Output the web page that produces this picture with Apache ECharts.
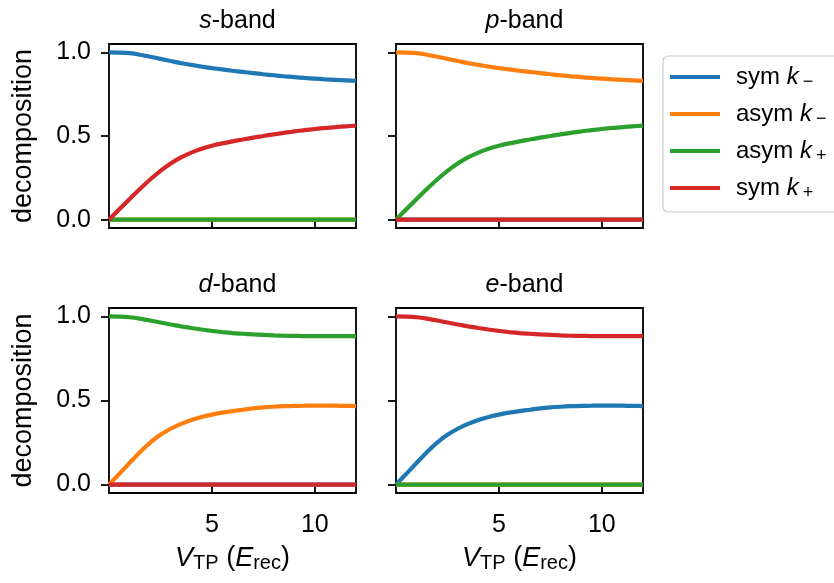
<!DOCTYPE html>
<html>
<head>
<meta charset="utf-8">
<script src="https://cdn.jsdelivr.net/npm/echarts@6/dist/echarts.min.js"></script>
<style>
  html, body { margin: 0; padding: 0; background: #fff; }
  #chart { width: 834px; height: 583px; }
</style>
</head>
<body>
<div id="chart"></div>
<script>
// Trap depth V_TP in units of the recoil energy, sampled every 0.5
const xValues = [0, 0.5, 1, 1.5, 2, 2.5, 3, 3.5, 4, 4.5, 5, 5.5, 6, 6.5, 7, 7.5, 8, 8.5, 9, 9.5, 10, 10.5, 11, 11.5, 12];

// s- and p-band: dominant component falls, the admixed one grows
const fallSP = [1.0, 0.999, 0.995, 0.986, 0.974, 0.961, 0.948, 0.936, 0.925, 0.915, 0.906, 0.898, 0.890,
                0.883, 0.876, 0.869, 0.863, 0.857, 0.852, 0.847, 0.843, 0.839, 0.836, 0.833, 0.830];
const riseSP = [0, 0.062, 0.123, 0.183, 0.240, 0.292, 0.336, 0.372, 0.401, 0.424, 0.442, 0.456, 0.468,
                0.479, 0.490, 0.500, 0.510, 0.519, 0.528, 0.535, 0.542, 0.548, 0.553, 0.558, 0.562];
// d- and e-band
const fallDE = [1.0, 0.999, 0.995, 0.987, 0.976, 0.964, 0.952, 0.941, 0.931, 0.922, 0.914, 0.907, 0.901,
                0.897, 0.893, 0.890, 0.887, 0.885, 0.884, 0.883, 0.883, 0.883, 0.883, 0.883, 0.883];
const riseDE = [0, 0.064, 0.129, 0.193, 0.250, 0.296, 0.332, 0.361, 0.384, 0.402, 0.416, 0.428, 0.437,
                0.445, 0.453, 0.459, 0.463, 0.466, 0.468, 0.469, 0.470, 0.470, 0.469, 0.468, 0.467];
const zeros  = xValues.map(() => 0);

const seriesNames = ['sym k−', 'asym k−', 'asym k+', 'sym k+'];
const seriesColors = ['#1f77b4', '#ff7f0e', '#2ca02c', '#d62728'];
const bandLetters = ['s', 'p', 'd', 'e'];
// components per band, in the order of seriesNames
const bandData = [
  [fallSP, zeros, zeros, riseSP],
  [zeros, fallSP, riseSP, zeros],
  [zeros, riseDE, fallDE, zeros],
  [riseDE, zeros, zeros, fallDE]
];
const yTicks = [0, 0.5, 1.0];
const xTicks = [5, 10];

const FONT = 'Liberation Sans, Arial, Helvetica, sans-serif';
const FS = 25;

const grids = [
  { left: 109, top: 44, width: 247, height: 184 },
  { left: 396, top: 44, width: 247, height: 184 },
  { left: 109, top: 308, width: 247, height: 185 },
  { left: 396, top: 308, width: 247, height: 185 }
];

const gridOpts = grids.map(g => Object.assign({
  show: true, borderColor: '#000', borderWidth: 1.8, backgroundColor: 'transparent'
}, g));

const titles = grids.map((g, i) => ({
  text: '{i|' + bandLetters[i] + '}-band',
  left: g.left + g.width / 2,
  top: g.top - 40,
  textAlign: 'center',
  textStyle: {
    fontFamily: FONT, fontSize: FS, fontWeight: 'normal', color: '#000',
    rich: { i: { fontFamily: FONT, fontSize: FS, fontStyle: 'italic', color: '#000' } }
  }
}));

const xAxes = grids.map((g, i) => ({
  type: 'value', gridIndex: i, min: 0, max: 12,
  axisLine: { show: false },
  splitLine: { show: false },
  axisTick: { show: true, length: 8, lineStyle: { color: '#000', width: 1.8 }, customValues: xTicks },
  axisLabel: {
    show: i >= 2, customValues: xTicks, margin: 20,
    fontFamily: FONT, fontSize: FS, color: '#000'
  },
  name: i >= 2 ? '{i|V}{s|TP} ({i|E}{s|rec})' : '',
  nameLocation: 'middle', nameGap: 50,
  nameTextStyle: {
    fontFamily: FONT, fontSize: 27, color: '#000',
    rich: {
      i: { fontFamily: FONT, fontSize: 27, fontStyle: 'italic', color: '#000' },
      s: { fontFamily: FONT, fontSize: 20, color: '#000', padding: [10, 0, 0, 0] }
    }
  }
}));

const yAxes = grids.map((g, i) => ({
  type: 'value', gridIndex: i, min: -0.05, max: 1.05,
  axisLine: { show: false },
  splitLine: { show: false },
  axisTick: { show: true, length: 8, lineStyle: { color: '#000', width: 1.8 }, customValues: yTicks },
  axisLabel: {
    show: i % 2 === 0, customValues: yTicks, margin: 18,
    fontFamily: FONT, fontSize: FS, color: '#000',
    formatter: v => v.toFixed(1)
  },
  name: i % 2 === 0 ? 'decomposition' : '',
  nameLocation: 'middle', nameGap: 72, nameRotate: 90,
  nameTextStyle: { fontFamily: FONT, fontSize: 27, color: '#000' }
}));

const series = [];
bandData.forEach((comps, b) => {
  comps.forEach((vals, k) => {
    series.push({
      type: 'line', name: seriesNames[k],
      xAxisIndex: b, yAxisIndex: b,
      data: xValues.map((x, j) => [x, vals[j]]),
      symbol: 'none', showSymbol: false,
      smooth: 0.25,
      color: seriesColors[k],
      lineStyle: { color: seriesColors[k], width: 4.2 },
      z: 2 + k
    });
  });
});

const legendRich = {
  t: { fontFamily: FONT, fontSize: 24, color: '#000', lineHeight: 28 },
  i: { fontFamily: FONT, fontSize: 24, fontStyle: 'italic', color: '#000', lineHeight: 28 },
  s: { fontFamily: FONT, fontSize: 18, color: '#000', lineHeight: 28, padding: [10, 0, 0, 4] }
};

const option = {
  animation: false,
  backgroundColor: '#fff',
  title: titles,
  grid: gridOpts,
  xAxis: xAxes,
  yAxis: yAxes,
  legend: {
    orient: 'vertical', left: 663, top: 56,
    data: seriesNames,
    icon: 'rect',
    itemWidth: 50, itemHeight: 4, itemGap: 9,
    padding: [7, 40, 10, 7],
    borderColor: '#cccccc', borderWidth: 1.2, borderRadius: 5,
    backgroundColor: '#fff',
    textStyle: { padding: [0, 0, 0, 11], rich: legendRich },
    formatter: name => {
      const parts = name.split(' ');
      const sign = parts[1].slice(1);
      return '{t|' + parts[0] + ' }{i|k}{s|' + sign + '}';
    }
  },
  series: series
};

const chart = echarts.init(document.getElementById('chart'), null, { renderer: 'canvas' });
chart.setOption(option);
</script>
</body>
</html>
